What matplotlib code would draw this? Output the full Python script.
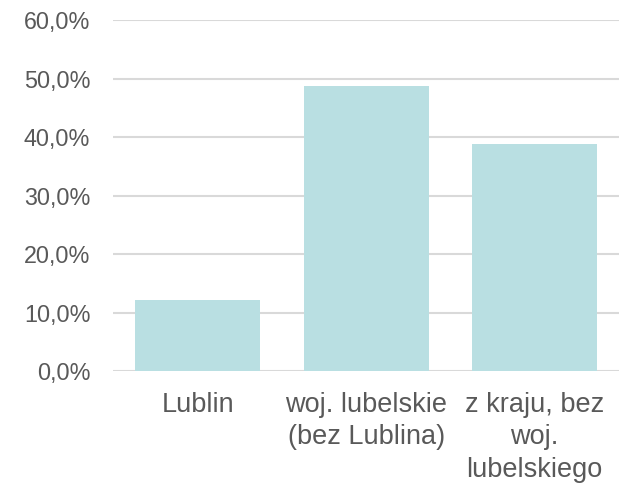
import matplotlib.pyplot as plt
from matplotlib.ticker import FuncFormatter

# data
categories = ["Lublin", "woj. lubelskie\n(bez Lublina)", "z kraju, bez\nwoj.\nlubelskiego"]
shares = [12.3, 48.8, 38.8]
y_ticks = [0, 10, 20, 30, 40, 50, 60]

bar_color = "#B9DFE2"
text_color = "#595959"
grid_color = "#D9D9D9"

plt.rcParams["font.family"] = ["Liberation Sans", "DejaVu Sans"]

fig = plt.figure(figsize=(6.19, 4.86), dpi=100)
ax = fig.add_axes([0.183, 0.2356, 0.817, 0.7224])

x = range(len(categories))
ax.bar(x, shares, width=0.743, color=bar_color, zorder=3)

ax.set_xlim(-0.5, len(categories) - 0.5)
ax.set_ylim(0, 60)
ax.set_yticks(y_ticks)
ax.yaxis.set_major_formatter(FuncFormatter(lambda v, _: f"{v:.1f}%".replace(".", ",")))
ax.set_xticks(list(x))
ax.set_xticklabels(categories, linespacing=1.34)

ax.grid(axis="y", color=grid_color, linewidth=1.5, zorder=0)
for side in ["top", "right", "left", "bottom"]:
    ax.spines[side].set_visible(False)

ax.tick_params(axis="both", length=0, colors=text_color)
ax.tick_params(axis="y", labelsize=16.8, pad=16.5)
ax.tick_params(axis="x", labelsize=19.5, pad=14.5)

fig.savefig("out.png", dpi=100)
